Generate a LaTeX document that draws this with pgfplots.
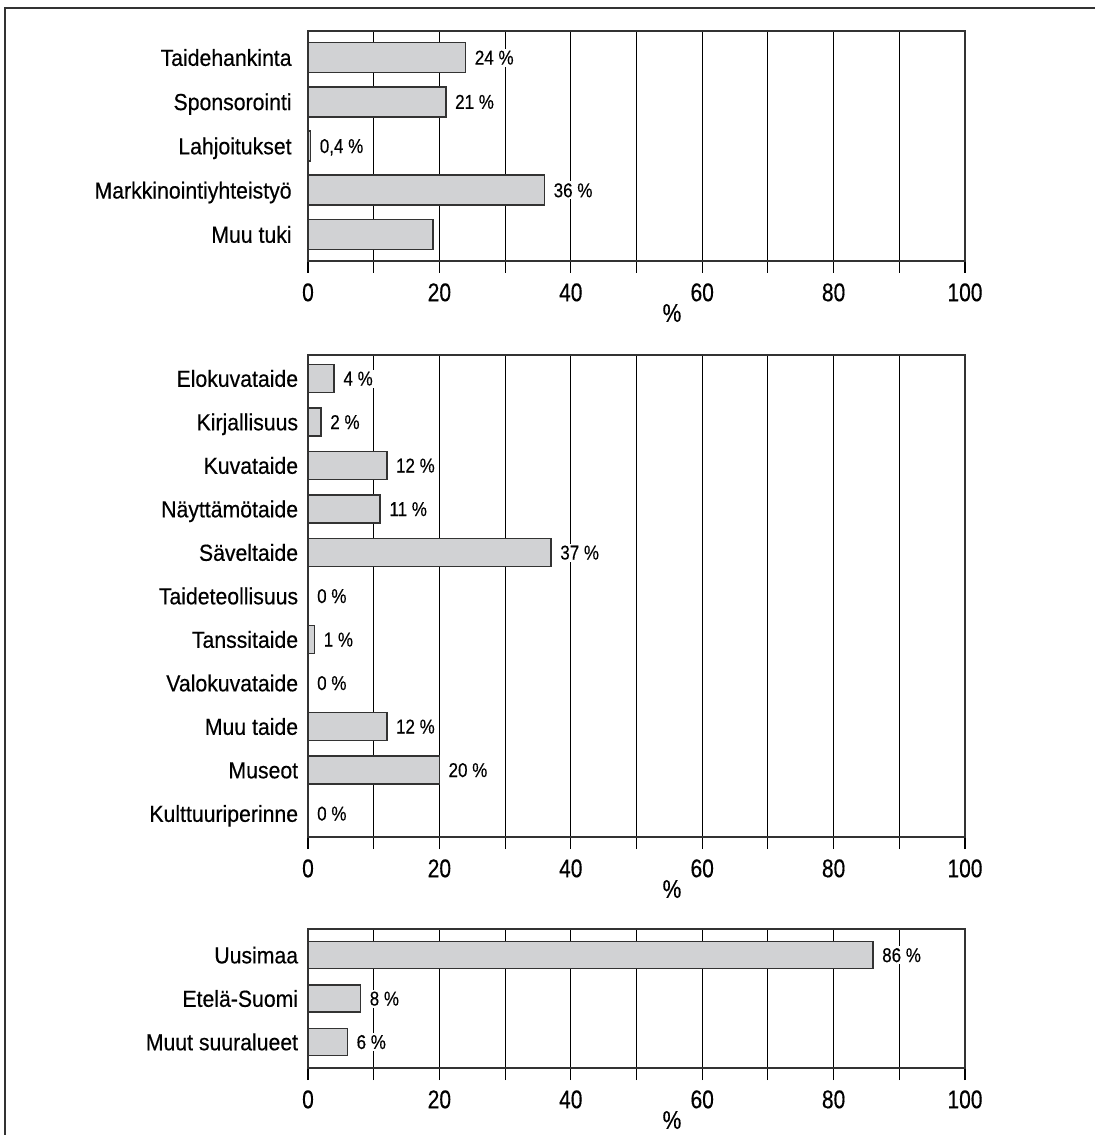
\documentclass[border=0pt]{standalone}
\usepackage{fontspec}
\setmainfont{Liberation Sans}[FakeStretch=0.915, FakeBold=0.4]
\newfontfamily\valfam{Liberation Sans}[FakeStretch=0.85, FakeBold=0.3]
\newfontfamily\tickfam{Liberation Sans}[FakeStretch=0.82, FakeBold=0.4]
\usepackage{pgfplots}
\pgfplotsset{compat=1.18}
\definecolor{barfill}{HTML}{D1D2D4}
\definecolor{barline}{HTML}{333333}
\newcommand{\lblfont}{\fontsize{11.6}{13}\selectfont}
\newcommand{\tickfont}{\tickfam\fontsize{12.8}{14}\selectfont}
\newcommand{\valfont}{\valfam\fontsize{10}{11}\selectfont}
\pgfplotsset{
  panel/.style={
    xbar, bar shift=0pt,
    scale only axis, width=328.5pt,
    anchor=north west,
    xmin=0, xmax=100,
    y dir=reverse,
    xtick={0,10,...,100},
    xticklabels={0,,20,,40,,60,,80,,100},
    xtick align=outside,
    xtick pos=left,
    major tick length=6pt,
    xtick style={black, line width=0.55pt},
    ytick style={draw=none},
    ytick align=inside,
    xmajorgrids,
    major grid style={black, line width=0.55pt},
    axis line style={barline, line width=0.75pt},
    yticklabel style={font=\lblfont, anchor=base east, inner sep=0pt, xshift=-4.75pt, yshift=-4.15pt},
    xticklabel style={font=\tickfont, anchor=base, inner sep=0pt, yshift=-14.1pt},
    xlabel={\%},
    every axis x label/.style={at={(axis description cs:0.554,0)}, anchor=center, yshift=-26pt, font=\tickfont},
    every node near coord/.append style={font=\valfont, anchor=base west, inner sep=1pt, fill=white, xshift=3.2pt, yshift=-3.5pt},
  },
  bars/.style={fill=barfill, draw=barline, line width=0.8pt},
}
\begin{document}
\begin{tikzpicture}
\useasboundingbox (0,0) rectangle (547.5pt,-567.5pt);
\draw[barline, line width=0.6pt] (2.5pt,-600pt) -- (2.5pt,-4pt) -- (600pt,-4pt);

% Top panel
\begin{axis}[panel, at={(154pt,-15.5pt)}, height=115pt,
  ymin=-0.6, ymax=4.6, bar width=15pt,
  yticklabel style={xshift=-3.25pt},
  ytick={0,1,2,3,4},
  yticklabels={Taidehankinta,Sponsorointi,Lahjoitukset,Markkinointiyhteistyö,Muu tuki}]
\addplot[bars, nodes near coords, point meta=explicit symbolic] coordinates {
  (24,0) [24 \%]
  (21,1) [21 \%]
  (0.4,2) [0,4 \%]
  (36,3) [36 \%]
};
\addplot[bars] coordinates {(19,4)};
\end{axis}

% Middle panel
\begin{axis}[panel, at={(154pt,-177.5pt)}, height=241pt,
  ymin=-0.54, ymax=10.54, bar width=14pt,
  ytick={0,1,...,10},
  yticklabels={Elokuvataide,Kirjallisuus,Kuvataide,Näyttämötaide,Säveltaide,Taideteollisuus,Tanssitaide,Valokuvataide,Muu taide,Museot,Kulttuuriperinne}]
\addplot[bars, nodes near coords, point meta=explicit symbolic] coordinates {
  (4,0) [4 \%]
  (2,1) [2 \%]
  (12,2) [12 \%]
  (11,3) [11 \%]
  (37,4) [37 \%]
  (0,5) [0 \%]
  (1,6) [1 \%]
  (0,7) [0 \%]
  (12,8) [12 \%]
  (20,9) [20 \%]
  (0,10) [0 \%]
};
\end{axis}

% Bottom panel
\begin{axis}[panel, at={(154pt,-464.5pt)}, height=69.5pt,
  ymin=-0.6, ymax=2.6, bar width=13.5pt,
  ytick={0,1,2},
  yticklabels={Uusimaa,Etelä-Suomi,Muut suuralueet}]
\addplot[bars, nodes near coords, point meta=explicit symbolic] coordinates {
  (86,0) [86 \%]
  (8,1) [8 \%]
  (6,2) [6 \%]
};
\end{axis}
\end{tikzpicture}
\end{document}
